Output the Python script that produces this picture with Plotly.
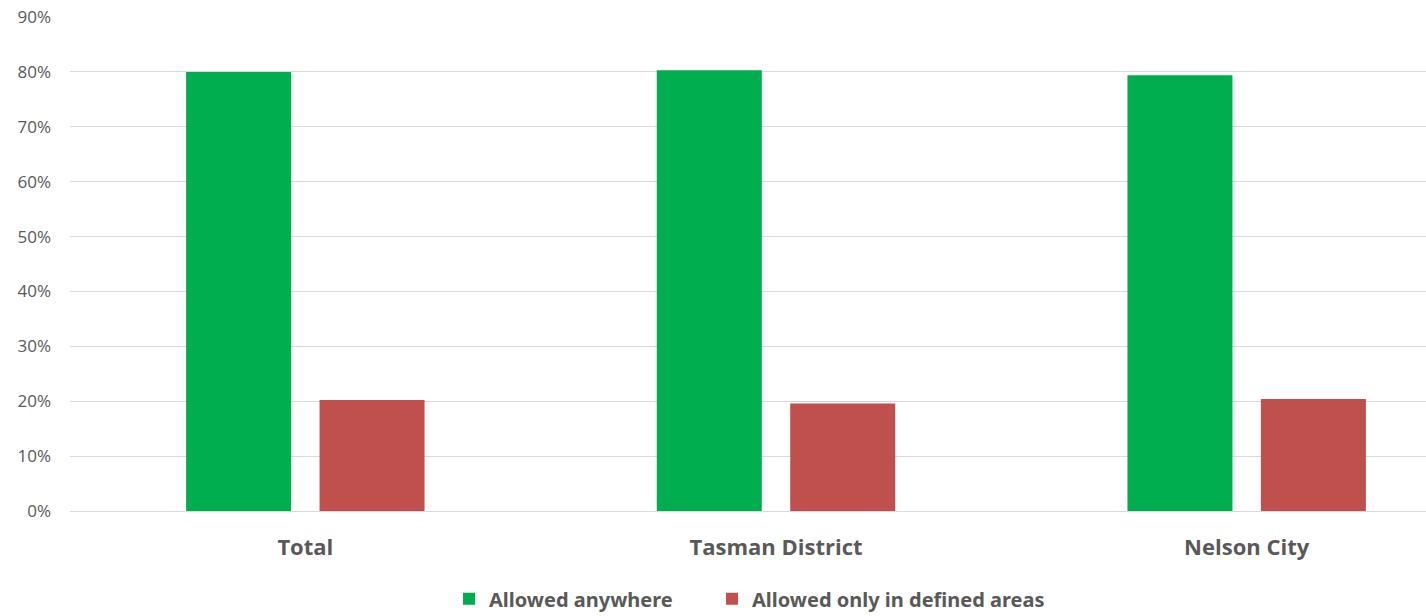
import plotly.graph_objects as go

categories = ["Total", "Tasman District", "Nelson City"]
allowed_anywhere = [0.80, 0.803, 0.794]
allowed_defined = [0.202, 0.196, 0.204]
series_names = ["Allowed anywhere", "Allowed only in defined areas"]
tick_vals = [0, 0.1, 0.2, 0.3, 0.4, 0.5, 0.6, 0.7, 0.8, 0.9]

GREEN = "#00AD4F"
RED = "#C0504D"
TEXT = "#595959"
W, H = 1426, 616

fig = go.Figure()
fig.add_trace(go.Bar(x=categories, y=allowed_anywhere, name=series_names[0],
                     marker=dict(color=GREEN, line=dict(width=0)), legend="legend"))
fig.add_trace(go.Bar(x=categories, y=allowed_defined, name=series_names[1],
                     marker=dict(color=RED, line=dict(width=0)), legend="legend2"))

legend_font = dict(family="Noto Sans", size=20, color=TEXT, weight="bold")
common = dict(orientation="h", xref="container", yref="container",
              xanchor="left", y=0.028, yanchor="middle",
              font=legend_font, itemwidth=30, itemclick=False)

fig.update_layout(
    width=W, height=H,
    margin=dict(l=70, r=0, t=17, b=105, autoexpand=False),
    paper_bgcolor="white", plot_bgcolor="white",
    barmode="group", bargap=0.433, bargroupgap=0.213,
    font=dict(family="Open Sans", color=TEXT),
    showlegend=True,
    legend=dict(x=449 / W, **common),
    legend2=dict(x=712 / W, **common),
    xaxis=dict(range=[-0.5, 2.381], showgrid=False, showline=False, zeroline=False,
               tickfont=dict(family="Open Sans", size=22, color=TEXT, weight="bold"),
               ticks="", ticklabelstandoff=21),
    yaxis=dict(range=[0, 0.9], tickvals=tick_vals, tickformat=".0%",
               showgrid=True, gridcolor="#D9D9D9", gridwidth=1,
               zeroline=True, zerolinecolor="#D9D9D9", zerolinewidth=1,
               showline=False, ticks="", ticklabelstandoff=18,
               tickfont=dict(family="Open Sans", size=17, color=TEXT)),
)

fig.write_html("out.html")
